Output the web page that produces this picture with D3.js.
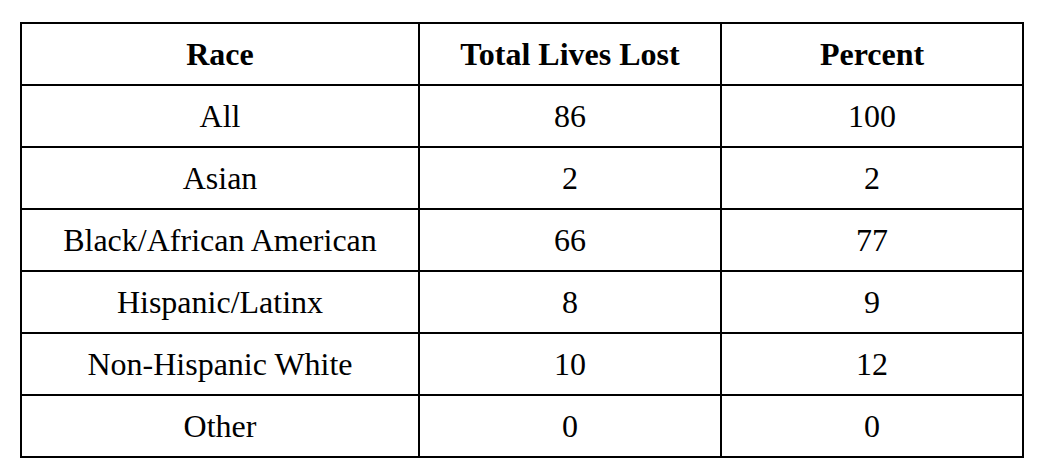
<!DOCTYPE html>
<html>
<head>
<meta charset="utf-8">
<script src="https://cdn.jsdelivr.net/npm/d3@7"></script>
<style>
  html, body { margin: 0; padding: 0; background: #fff; }
  svg { display: block; }
  text { font-family: "Liberation Serif", "Times New Roman", serif; fill: #000; }
</style>
</head>
<body>
<svg id="chart"></svg>
<script>
// ── Data ──────────────────────────────────────────────────────────────────────
const headers = ['Race', 'Total Lives Lost', 'Percent'];
const races   = ['All', 'Asian', 'Black/African American', 'Hispanic/Latinx', 'Non-Hispanic White', 'Other'];
const totals  = [86, 2, 66, 8, 10, 0];
const percents = [100, 2, 77, 9, 12, 0];

// ── Layout ────────────────────────────────────────────────────────────────────
const W = 1044, H = 474;
const tblL = 21, tblR = 1023, tblT = 23, tblB = 457;
const colEdges = [tblL, 419, 721, tblR];
const fs = 32;

const svg = d3.select('#chart').attr('width', W).attr('height', H);

const rows = [headers].concat(races.map((r, i) => [r, String(totals[i]), String(percents[i])]));

const y = d3.scaleBand().domain(d3.range(rows.length)).range([tblT, tblB]);
const colX = i => colEdges[i];
const colW = i => colEdges[i + 1] - colEdges[i];

// cell text
const g = svg.append('g');
rows.forEach((row, ri) => {
  row.forEach((txt, ci) => {
    g.append('text')
      .attr('x', colX(ci) + colW(ci) / 2)
      .attr('y', y(ri) + y.bandwidth() / 2 + fs * 0.33)
      .attr('text-anchor', 'middle')
      .attr('font-size', fs)
      .attr('font-weight', ri === 0 ? 'bold' : 'normal')
      .text(txt);
  });
});

// grid lines
const lines = svg.append('g').attr('stroke', '#000').attr('stroke-width', 2);
d3.range(rows.length + 1).forEach(i => {
  const yy = i < rows.length ? y(i) : tblB;
  lines.append('line').attr('x1', tblL - 1).attr('x2', tblR + 1).attr('y1', yy).attr('y2', yy);
});
colEdges.forEach(x => {
  lines.append('line').attr('x1', x).attr('x2', x).attr('y1', tblT).attr('y2', tblB);
});
</script>
</body>
</html>
